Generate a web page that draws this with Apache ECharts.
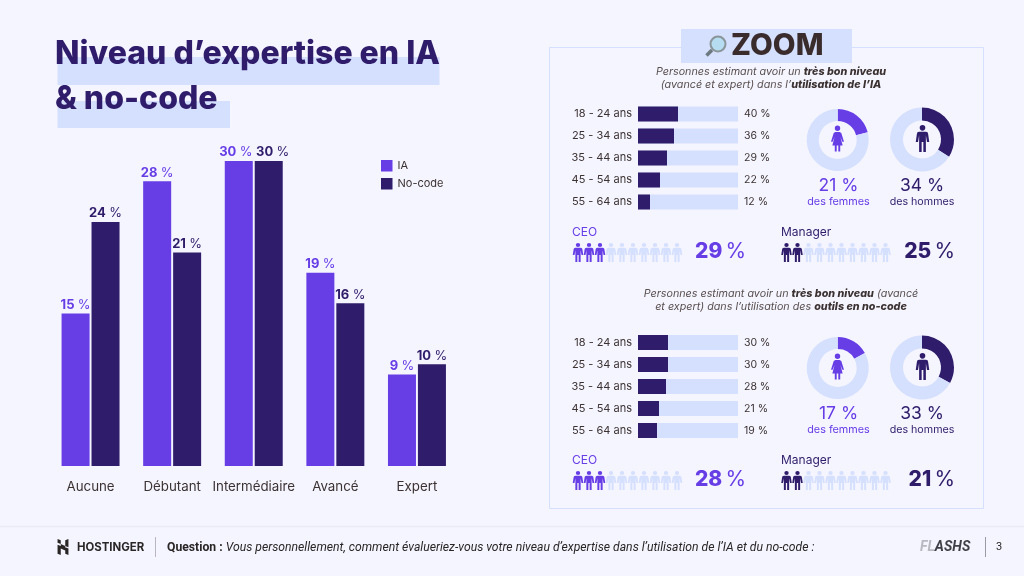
<!DOCTYPE html>
<html><head><meta charset="utf-8">
<style>html,body{margin:0;padding:0;background:#f4f5ff}#c{width:1024px;height:576px}</style>
<script src="https://cdn.jsdelivr.net/npm/echarts@6/dist/echarts.min.js"></script>
</head><body><div id="c"></div>
<script>
const levels = ['Aucune','Débutant','Intermédiaire','Avancé','Expert'];
const seriesIA = [15,28,30,19,9];
const seriesNoCode = [24,21,30,16,10];
const ages = ['18 - 24 ans','25 - 34 ans','35 - 44 ans','45 - 54 ans','55 - 64 ans'];
const agesIA = [40,36,29,22,12];
const agesNoCode = [30,30,28,21,19];
const genderIA = {femmes:21, hommes:34};
const genderNoCode = {femmes:17, hommes:33};
const jobsIA = {CEO:29, Manager:25};
const jobsNoCode = {CEO:28, Manager:21};
const iconsIA = {CEO:3, Manager:2};
const iconsNoCode = {CEO:3, Manager:2};
const iconTotal = 10;

const PURPLE='#673de6', DARK='#2f1c6a', LIGHT='#d5dffe', BG='#f4f5ff', INK='#3d3232';
const FONT='Inter, "Noto Sans", sans-serif';
const MAN='M12 0a5 5 0 1 1 0 10a5 5 0 1 1 0-10zM6 12h12a4 4 0 0 1 4 4l2 14h-4l-2-12v30h-4.5v-18h-3v18h-4.5v-30l-2 12h-4l2-14a4 4 0 0 1 4-4z';
const WOMAN='M12 0a5 5 0 1 1 0 10a5 5 0 1 1 0-10zM8 12h8l3 2l5 16h-3l-3.5-9l4 16h-4.5v11h-3.5v-11h-3v11h-3.5v-11h-4.5l4-16l-3.5 9h-3l5-16z';

const grids=[], xAxes=[], yAxes=[], series=[], graphic=[], paths=[];
function txt(x,y,text,o){graphic.push({type:'text',x,y,silent:true,style:Object.assign({text,fontFamily:FONT,fill:INK,fontSize:11,textAlign:'left',textVerticalAlign:'middle'},o||{})});}
function rect(x,y,w,h,fill,stroke){graphic.push({type:'rect',silent:true,shape:{x,y,width:w,height:h},style:{fill:fill||'none',stroke:stroke||'none',lineWidth:1}});}

// backgrounds
rect(57.5,57,382,28,LIGHT);
rect(57.5,101,172.5,27,LIGHT);
rect(549.5,47.5,434,461,'none',LIGHT);
rect(681,29,171,34,LIGHT);
graphic.push({type:'line',silent:true,shape:{x1:0,y1:526.5,x2:1024,y2:526.5},style:{stroke:'#ecebf4',lineWidth:1.5}});
txt(55,54,'Niveau d’expertise en IA',{fontSize:32,fontWeight:800,fill:DARK});
txt(55,99,'& no-code',{fontSize:32,fontWeight:800,fill:DARK});

// main chart
grids.push({left:49.75,width:408,top:161,bottom:110});
xAxes.push({type:'category',gridIndex:0,data:levels,axisLine:{show:false},axisTick:{show:false},
  axisLabel:{color:INK,fontSize:13.3,fontFamily:FONT,margin:14,interval:0}});
yAxes.push({type:'value',gridIndex:0,min:0,max:30,show:false});
function pctLabel(color){return {show:true,position:'top',distance:2,formatter:p=>`{n|${p.value}} {p|%}`,
  rich:{n:{fontFamily:FONT,fontWeight:700,fontSize:13,color},p:{fontFamily:FONT,fontWeight:400,fontSize:13,color}}};}
function barData(values,i,dx){return values.map((v,k)=>k===i?{value:v,label:{offset:[dx,0]}}:v);}
series.push({name:'IA',type:'bar',xAxisIndex:0,yAxisIndex:0,data:barData(seriesIA,2,-3),barWidth:28,barGap:'7%',itemStyle:{color:PURPLE},label:pctLabel(PURPLE),silent:true});
series.push({name:'No-code',type:'bar',xAxisIndex:0,yAxisIndex:0,data:barData(seriesNoCode,2,4),barWidth:28,itemStyle:{color:DARK},label:pctLabel(DARK),silent:true});

function addPeople(left,top,filled,color){
  const i=grids.length;
  grids.push({left,top,width:110,height:19});
  xAxes.push({type:'value',gridIndex:i,min:-0.5,max:iconTotal-0.5,show:false});
  yAxes.push({type:'value',gridIndex:i,min:0,max:1,show:false});
  const pts=[]; for(let k=0;k<iconTotal;k++) pts.push({value:[k,0.5],itemStyle:{color:k<filled?color:LIGHT,opacity:1}});
  series.push({type:'scatter',xAxisIndex:i,yAxisIndex:yAxes.length-1,symbol:'path://'+MAN,symbolSize:[10.5,19],data:pts,silent:true,animation:false});
}
function addPie(cx,cy,r,v,color){
  series.push({type:'pie',center:[cx,cy],radius:[19,r],startAngle:90,silent:true,label:{show:false},labelLine:{show:false},animation:false,
    data:[{value:v,itemStyle:{color}},{value:100-v,itemStyle:{color:LIGHT}}]});
}
function icon(path,cx,cy,w,h,fill){
  paths.push({type:'path',shape:{pathData:path,layout:'center',x:cx-w/2,y:cy-h/2,width:w,height:h},style:{fill}});
}
function pctBig(x,y,v,color){
  txt(x,y,`{n|${v}} {p|%}`,{textAlign:'right',rich:{n:{fontFamily:FONT,fontWeight:800,fontSize:21,fill:color},p:{fontFamily:FONT,fontWeight:400,fontSize:21,fill:color}}});
}
function panel(y0,values){
  const i=grids.length;
  grids.push({left:638,width:100,top:y0,height:110});
  xAxes.push({type:'value',gridIndex:i,min:0,max:100,show:false});
  const yBase={type:'category',gridIndex:i,inverse:true,axisLine:{show:false},axisTick:{show:false}};
  yAxes.push(Object.assign({},yBase,{data:ages,position:'left',axisLabel:{color:INK,fontSize:11,fontFamily:FONT,margin:6}}));
  yAxes.push(Object.assign({},yBase,{data:values.map(v=>v+' %'),position:'right',axisLabel:{color:INK,fontSize:10.5,fontFamily:FONT,margin:6}}));
  series.push({type:'bar',xAxisIndex:i,yAxisIndex:yAxes.length-2,data:values,barWidth:15,itemStyle:{color:DARK},showBackground:true,backgroundStyle:{color:LIGHT},silent:true});
}
function panelExtras(off,gender,jobs,icons){
  addPie(837.7,140+off,31,gender.femmes,PURPLE);
  addPie(922,139.5+off,32,gender.hommes,DARK);
  icon(WOMAN,837.5,138.5+off,13,27,PURPLE);
  icon(MAN,922.5,138.5+off,13.5,29,DARK);
  txt(838.5,186+off,gender.femmes+' %',{textAlign:'center',fontSize:17.5,fill:PURPLE});
  txt(838.5,202+off,'des femmes',{textAlign:'center',fontSize:10.8,fill:PURPLE});
  txt(922,186+off,gender.hommes+' %',{textAlign:'center',fontSize:17.5,fill:DARK});
  txt(922,202+off,'des hommes',{textAlign:'center',fontSize:10.7,fill:DARK});
  txt(572,232+off,'CEO',{fontSize:12,fill:PURPLE});
  txt(781,232+off,'Manager',{fontSize:12,fill:DARK});
  addPeople(572.5,243+off,icons.CEO,PURPLE);
  addPeople(781,243+off,icons.Manager,DARK);
  pctBig(746,252+off,jobs.CEO,PURPLE);
  pctBig(955,252+off,jobs.Manager,DARK);
}
panel(103,agesIA); panelExtras(0,genderIA,jobsIA,iconsIA);
panel(331.5,agesNoCode); panelExtras(228,genderNoCode,jobsNoCode,iconsNoCode);

// ZOOM header
graphic.push({type:'line',silent:true,shape:{x1:712,y1:50,x2:706.5,y2:55.5},style:{stroke:'#6c7a80',lineWidth:3.5}});
graphic.push({type:'circle',silent:true,shape:{cx:718,cy:44,r:7.5},style:{fill:'#b6dcf2',stroke:'#8a9599',lineWidth:2}});
txt(731,46,'ZOOM',{fontSize:29.5,fontWeight:800,fill:'#3a2c2c'});

const subRich={i:{fontFamily:FONT,fontStyle:'italic',fontSize:10.75,fill:'#5a4f4f',lineHeight:13.5},b:{fontFamily:FONT,fontStyle:'italic',fontWeight:800,fontSize:10.75,fill:INK,lineHeight:13.5}};
txt(771,78.5,'{i|Personnes estimant avoir un }{b|très bon niveau}\n{i|(avancé et expert) dans l’}{b|utilisation de l’IA}',{textAlign:'center',rich:subRich});
txt(781,300.5,'{i|Personnes estimant avoir un }{b|très bon niveau}{i| (avancé}\n{i|et expert) dans l’utilisation des }{b|outils en no-code}',{textAlign:'center',rich:subRich});

// footer
const LOGO='M0 0l5 2v6l7 3v5l-7-3v-5l-5-2zM17 0v13l-5-2v-9zM0 9l5 2v14l-5-2zM12 13l5 2v10l-5-2v-5l-7-3v-5z';
icon(LOGO,63,547,16,16,'#2b2626');
txt(77,547.5,'HOSTINGER',{fontSize:11.4,fontWeight:700,fill:'#2b2626'});
graphic.push({type:'line',silent:true,shape:{x1:155.5,y1:537,x2:155.5,y2:557},style:{stroke:'#b9b6c2',lineWidth:1}});
txt(167,547.5,'{b|Question :} {i|Vous personnellement, comment évalueriez-vous votre niveau d’expertise dans l’utilisation de l’IA et du no-code :}',
  {rich:{b:{fontFamily:'Roboto',fontWeight:700,fontSize:12.2,fill:'#2b2626'},i:{fontFamily:'Roboto',fontStyle:'italic',fontSize:12.2,fill:'#2b2626'}}});
txt(920,547.5,'{a|FL}{b|ASHS}',{rich:{a:{fontFamily:'"Liberation Sans Narrow",Roboto',fontStyle:'italic',fontWeight:700,fontSize:14,fill:'#b8b8c0'},b:{fontFamily:'"Liberation Sans Narrow",Roboto',fontStyle:'italic',fontWeight:700,fontSize:14,fill:'#3f3f46'}}});
graphic.push({type:'line',silent:true,shape:{x1:985.5,y1:537,x2:985.5,y2:557},style:{stroke:'#9c9aa5',lineWidth:1}});
txt(999,547.5,'3',{fontFamily:'Roboto',fontSize:11,textAlign:'center',fill:'#2b2626'});

series.push({type:'custom',coordinateSystem:'none',data:[0],silent:true,z:20,animation:false,
  renderItem:()=>({type:'group',children:paths})});

const chart=echarts.init(document.getElementById('c'),null,{renderer:'canvas'});
chart.setOption({
  backgroundColor:BG,animation:false,
  legend:{left:376,top:155,orient:'vertical',itemWidth:11.5,itemHeight:11.5,itemGap:6.5,data:['IA','No-code'],icon:'rect',selectedMode:false,
    textStyle:{color:INK,fontSize:11,fontFamily:FONT}},
  grid:grids,xAxis:xAxes,yAxis:yAxes,series,
  graphic:{elements:graphic}
});
</script></body></html>
